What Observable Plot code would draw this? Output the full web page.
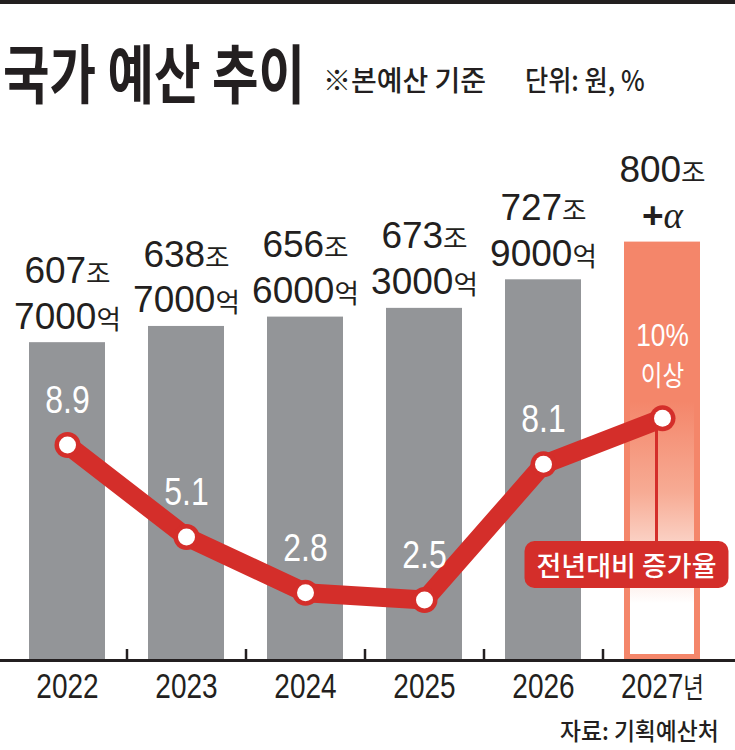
<!DOCTYPE html>
<html><head><meta charset="utf-8">
<script src="https://cdn.jsdelivr.net/npm/d3@7"></script>
<script src="https://cdn.jsdelivr.net/npm/@observablehq/plot@0.6"></script>
<style>
body{margin:0;background:#fff;}
#wrap{position:relative;width:735px;height:750px;overflow:hidden;background:#fff;}
#topline{position:absolute;left:0;top:0;width:735px;height:4px;background:#231f20;}
.hd{position:absolute;font-family:'Noto Sans CJK KR','Noto Sans',sans-serif;line-height:1;color:#231f20;white-space:nowrap;transform-origin:left top;}
#title{left:3px;top:38px;font-size:64px;font-weight:700;transform:scaleX(0.79);}
#sub{left:323px;top:65px;font-size:28px;font-weight:500;}
#unit{left:525px;top:65px;font-size:28px;font-weight:500;transform:scaleX(0.9);}
#source{left:560px;top:718px;font-size:24px;font-weight:500;transform:scaleX(0.95);}
#chart{position:absolute;left:0;top:0;}
</style>
</head><body>
<div id="wrap">
  <div id="chart"></div>
  <div id="topline"></div>
  <div class="hd" id="title">국가 예산 추이</div>
  <div class="hd" id="sub">※본예산 기준</div>
  <div class="hd" id="unit">단위: 원, %</div>
  <div class="hd" id="source">자료: 기획예산처</div>
</div>
<script>
// ---- data ----
const years = ["2022", "2023", "2024", "2025", "2026", "2027"];
const budget = [607.7, 638.7, 656.6, 673.3, 727.9, 800];           // 조 원
const budgetLabels = ["607조\n7000억", "638조\n7000억", "656조\n6000억", "673조\n3000억", "727조\n9000억", "800조\n+α"];
const rates = [8.9, 5.1, 2.8, 2.5, 8.1, 10];                        // 전년대비 증가율 %
const rateLabels = ["8.9", "5.1", "2.8", "2.5", "8.1", "10%\n이상"];
const rateNote = "전년대비 증가율";

// secondary axis ratio: 1%p of growth expressed in budget units
const RATE_TO_Y = 46.3;
const NOTE_Y = 178;

const data = years.map((y, i) => ({
  year: y, budget: budget[i], label: budgetLabels[i],
  rate: rates[i], rateLabel: rateLabels[i], projected: i === years.length - 1
}));

const RED = "#d42e2a", GRAY = "#939598", SALMON = "#f4866a", INK = "#231f20";
const NUM = "'Liberation Sans', Arial, sans-serif";
const KR = "'Noto Sans CJK KR', sans-serif";

const defs = () => {
  const d = d3.create("svg:defs");
  const g = d.append("linearGradient").attr("id", "g2027").attr("x1", 0).attr("y1", 0).attr("x2", 0).attr("y2", 1);
  g.append("stop").attr("offset", 0).attr("stop-color", SALMON);
  g.append("stop").attr("offset", 0.38).attr("stop-color", SALMON);
  g.append("stop").attr("offset", 0.6).attr("stop-color", "#f7ab94");
  g.append("stop").attr("offset", 0.87).attr("stop-color", "#ffffff");
  g.append("stop").attr("offset", 1).attr("stop-color", "#ffffff");
  return d.node();
};

const plot = Plot.plot({
  width: 735, height: 750,
  marginTop: 120, marginBottom: 90, marginLeft: 8, marginRight: 13,
  style: {background: "transparent", fontFamily: NUM},
  x: {type: "band", domain: years, paddingInner: 0.36, paddingOuter: 0.18,
      tickSize: 0, tickPadding: 13, label: null,
      tickFormat: d => d === "2027" ? d + "년" : d},
  y: {domain: [0, 1032.5], axis: null},
  marks: [
    defs,
    Plot.barY(data.filter(d => !d.projected), {x: "year", y: "budget", fill: GRAY}),
    Plot.barY(data.filter(d => d.projected), {x: "year", y: "budget", fill: "url(#g2027)", stroke: SALMON, strokeWidth: 6, inset: 3}),
    Plot.ruleX(years.slice(0, -1), {x: d => d, dx: 59.5, y1: 0, y2: 21, stroke: INK, strokeWidth: 2.5}),
    Plot.ruleY([0], {stroke: INK, strokeWidth: 3, insetLeft: -8, insetRight: -13}),
    Plot.text(data, {x: "year", y: "budget", text: "label", lineAnchor: "bottom", dy: -14,
      fontSize: 37, lineHeight: 1.24, fill: INK, fontFamily: NUM, className: "budget-lbl"}),
    Plot.ruleX(data.filter(d => d.projected), {x: "year", y1: d => d.rate * RATE_TO_Y, y2: NOTE_Y, stroke: RED, strokeWidth: 3, dx: -6}),
    Plot.line(data, {x: "year", y: d => d.rate * RATE_TO_Y, stroke: RED, strokeWidth: 19,
      strokeLinejoin: "round", strokeLinecap: "round"}),
    Plot.dot(data, {x: "year", y: d => d.rate * RATE_TO_Y, r: 13, fill: RED}),
    Plot.dot(data, {x: "year", y: d => d.rate * RATE_TO_Y, r: 8.5, fill: "white"}),
    Plot.text(data, {x: "year", y: d => d.rate * RATE_TO_Y, text: "rateLabel", lineAnchor: "bottom", dy: -32,
      fontSize: d => d.projected ? 32 : 39, lineHeight: 1.25, fill: "white", fontFamily: NUM, className: "rate-lbl"}),
    Plot.text([rateNote], {x: () => "2027", y: () => NOTE_Y, text: d => d, dx: -36,
      fontSize: 27, fill: "white", fontFamily: KR, fontWeight: 500, className: "note-lbl"})
  ]
});
document.getElementById("chart").appendChild(plot);

// axis label styling
plot.querySelectorAll('[aria-label^="x-axis"]').forEach(g => { g.setAttribute("font-size", 35); g.setAttribute("font-family", NUM); });
plot.querySelectorAll('[aria-label^="x-axis"] text').forEach(t => {
  t.style.fontSize = "35px"; t.style.fontFamily = NUM; t.setAttribute("fill", INK);
});

const svgNS = "http://www.w3.org/2000/svg";
function decorate(textEl, hangulSize) {
  const nodes = [];
  const walker = document.createTreeWalker(textEl, NodeFilter.SHOW_TEXT);
  while (walker.nextNode()) nodes.push(walker.currentNode);
  for (const n of nodes) {
    if (!/[\uAC00-\uD7A3α+]/.test(n.textContent)) continue;
    const parts = n.textContent.split(/([\uAC00-\uD7A3]+|α|\+)/).filter(s => s);
    const frag = document.createDocumentFragment();
    for (const p of parts) {
      let t;
      if (/^[\uAC00-\uD7A3]+$/.test(p)) {
        t = document.createElementNS(svgNS, "tspan");
        t.setAttribute("font-size", hangulSize); t.setAttribute("font-family", KR);
      } else if (p === "α") {
        t = document.createElementNS(svgNS, "tspan");
        t.setAttribute("font-style", "italic"); t.setAttribute("font-family", "'Liberation Serif', serif");
      } else if (p === "+") {
        t = document.createElementNS(svgNS, "tspan");
        t.setAttribute("font-weight", "bold");
      }
      if (t) { t.textContent = p; frag.appendChild(t); }
      else frag.appendChild(document.createTextNode(p));
    }
    n.parentNode.replaceChild(frag, n);
  }
}
// horizontal condensing (the reference face is a narrow grotesque)
function condense(textEl, factor) {
  const tr = textEl.getAttribute("transform");
  if (tr) {
    textEl.setAttribute("transform", `${tr} scale(${factor},1)`);
  } else {
    const x = +textEl.getAttribute("x") || 0;
    textEl.setAttribute("transform", `translate(${x},0) scale(${factor},1) translate(${-x},0)`);
  }
}
plot.querySelectorAll(".budget-lbl text").forEach(t => decorate(t, "0.72em"));
plot.querySelectorAll(".rate-lbl text").forEach(t => { decorate(t, "0.9em"); condense(t, 0.82); });
plot.querySelectorAll('[aria-label^="x-axis"] text').forEach(t => { decorate(t, "0.8em"); condense(t, 0.8); });

// rounded label box behind the note
plot.querySelectorAll(".note-lbl text").forEach(t => {
  const bb = t.getBBox();
  const r = document.createElementNS(svgNS, "rect");
  const w = bb.width + 24, h = 47;
  r.setAttribute("x", bb.x + bb.width / 2 - w / 2);
  r.setAttribute("y", bb.y + bb.height / 2 - h / 2);
  r.setAttribute("width", w); r.setAttribute("height", h);
  r.setAttribute("rx", 10); r.setAttribute("fill", RED);
  if (t.getAttribute("transform")) r.setAttribute("transform", t.getAttribute("transform"));
  t.parentNode.insertBefore(r, t);
});
</script>
</body></html>
